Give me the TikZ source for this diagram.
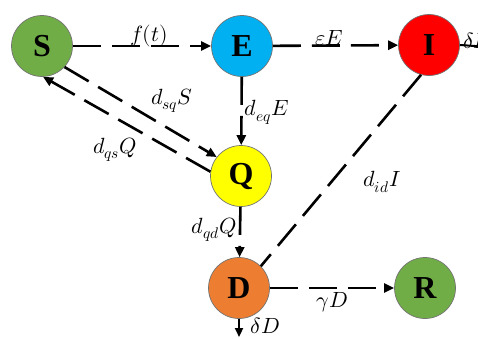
\documentclass[tikz,border=0pt]{standalone}
\usepackage{fontspec}
\usepackage{unicode-math}
\setmainfont{Liberation Serif}
\setmathfont{Latin Modern Math}
\usetikzlibrary{arrows.meta}
\definecolor{cS}{HTML}{70AD47}
\definecolor{cE}{HTML}{00B0F0}
\definecolor{cI}{HTML}{FF0000}
\definecolor{cQ}{HTML}{FFFF00}
\definecolor{cD}{HTML}{ED7D31}
\tikzset{
  comp/.style={circle,minimum size=61pt,inner sep=0pt,draw=black!55,line width=0.7pt,
    font=\fontsize{32}{32}\selectfont\bfseries},
  flow/.style={line width=2.6pt,dash pattern=on 28pt off 11pt,-{Triangle[length=10pt,width=9pt]}},
  flownohead/.style={line width=2.6pt,dash pattern=on 28pt off 11pt},
  solidflow/.style={line width=2.2pt,-{Triangle[length=9pt,width=8pt]}},
  lab/.style={font=\fontsize{22}{22}\selectfont,inner sep=1pt}
}
\begin{document}
\begin{tikzpicture}[x=1pt,y=-1pt]
\useasboundingbox (0,0) rectangle (478,338);
\node[comp,fill=cS] (S) at (42,46) {S};
\node[comp,fill=cE] (E) at (242,46) {E};
\node[comp,fill=cI] (I) at (429,45) {I};
\node[comp,fill=cQ] (Q) at (241,176) {Q};
\node[comp,fill=cD] (D) at (239,288) {D};
\node[comp,fill=cS] (R) at (425,288) {R};
\coordinate (Iout) at (490,47);
\coordinate (Dout) at (239,337);
\draw[flow] (S) -- (E) node[lab,pos=0.55,above=-3pt] {$f(t)$};
\draw[flow] (E) -- (I) node[lab,pos=0.45,above=-3pt] {$\varepsilon E$};
\draw[line width=2pt] (I.east) -- (Iout);
\node[lab,anchor=south west] (dI) at (462,50) {$\delta I$};
\draw[flow] (E) -- (Q) node[lab,pos=0.52,right=1pt] {$d_{eq}E$};
\draw[flow] (S.-43) -- (Q.142);
\node[lab] (lsq) at (172,101) {$d_{sq}S$};
\draw[flow] (Q.172) -- (S.-88);
\node[lab] (lqs) at (115,150) {$d_{qs}Q$};
\draw[flow] (Q) -- (D) node[lab,pos=0.45,left=1pt] {$d_{qd}Q$};
\draw[flownohead] (I.-105) -- (D.45);
\node[lab] (lid) at (382,182) {$d_{id}I$};
\draw[flow] (D) -- (R) node[lab,pos=0.5,below=2pt] {$\gamma D$};
\draw[solidflow] (D.south) -- (Dout);
\node[lab] (ldd) at (265,326) {$\delta D$};
\end{tikzpicture}
\end{document}
